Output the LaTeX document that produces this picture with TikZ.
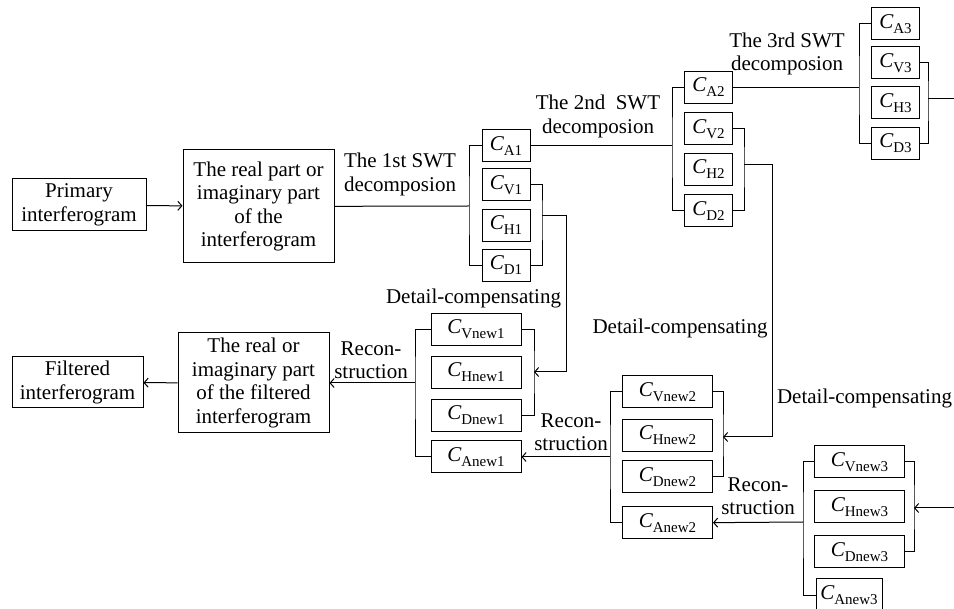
\documentclass[tikz,border=0pt]{standalone}
\usepackage{fontspec}
\setmainfont{Liberation Serif}
\usetikzlibrary{arrows.meta}
\newcommand{\coef}[1]{{\itshape C}\raisebox{-5pt}{\fontsize{15}{15}\selectfont #1}}

\begin{document}
\begin{tikzpicture}[x=1pt,y=-1pt,>={Straight Barb[length=4pt,width=9pt]},line width=1pt,
  box/.style={draw,align=center,inner sep=2pt},
  small node/.style={draw,minimum width=48pt,minimum height=32pt,inner sep=0pt},
  new node/.style={draw,minimum width=90pt,minimum height=32pt,inner sep=0pt},
  lbl/.style={align=center,inner sep=0pt}]
	\tikzset{every node/.append style={font=\fontsize{21}{23.5}\selectfont}}
	\useasboundingbox (0,0) rectangle (954,609);
	% input side
	\node[box,minimum width=134pt,minimum height=52pt] (prim) at (79,205) {Primary\\interferogram};
	\node[box,minimum width=151pt,minimum height=113pt] (real) at (258.5,206.5) {The real part or\\imaginary part\\of the\\interferogram};
	% output side
	\node[box,minimum width=131pt,minimum height=51pt] (filt) at (77.5,382.5) {Filtered\\interferogram};
	\node[box,minimum width=151pt,minimum height=100pt] (freal) at (253.5,383) {The real or\\imaginary part\\of the filtered\\interferogram};
	% 1st level
	\node[small node] (ca1) at (506,146) {\coef{A1}};
	\node[small node] (cv1) at (506,185) {\coef{V1}};
	\node[small node] (ch1) at (506,225.5) {\coef{H1}};
	\node[small node] (cd1) at (506,265.5) {\coef{D1}};
	% 2nd level
	\node[small node] (ca2) at (708.5,87.5) {\coef{A2}};
	\node[small node] (cv2) at (708.5,129) {\coef{V2}};
	\node[small node] (ch2) at (708.5,169.5) {\coef{H2}};
	\node[small node] (cd2) at (708.5,211) {\coef{D2}};
	% 3rd level
	\node[small node] (ca3) at (895.5,24) {\coef{A3}};
	\node[small node] (cv3) at (895.5,63) {\coef{V3}};
	\node[small node] (ch3) at (895.5,103) {\coef{H3}};
	\node[small node] (cd3) at (895.5,143.5) {\coef{D3}};
	% new coefficients
	\node[new node] (cvn1) at (476,329.5) {\coef{Vnew1}};
	\node[new node] (chn1) at (476,372.5) {\coef{Hnew1}};
	\node[new node] (cdn1) at (476,415.5) {\coef{Dnew1}};
	\node[new node] (can1) at (476,457) {\coef{Anew1}};
	\node[new node] (cvn2) at (667.5,392) {\coef{Vnew2}};
	\node[new node] (chn2) at (667.5,435.5) {\coef{Hnew2}};
	\node[new node] (cdn2) at (667.5,477) {\coef{Dnew2}};
	\node[new node] (can2) at (667.5,523) {\coef{Anew2}};
	\node[new node] (cvn3) at (859.5,462) {\coef{Vnew3}};
	\node[new node] (chn3) at (859.5,507) {\coef{Hnew3}};
	\node[new node] (cdn3) at (859.5,552) {\coef{Dnew3}};
	\node[new node,minimum width=66pt] (can3) at (849,595) {\coef{Anew3}};
	% labels
	\node[lbl] (dec1) at (400,174.5) {The 1st SWT\\decomposion};
	\node[lbl] (dec2) at (598,116.5) {The 2nd\ \ SWT\\decomposion};
	\node[lbl] (dec3) at (787,54) {The 3rd SWT\\decomposion};
	\node[lbl] (det1) at (473.5,298) {Detail-compensating};
	\node[lbl] (det2) at (680,328) {Detail-compensating};
	\node[lbl] (det3) at (864.5,398) {Detail-compensating};
	\node[lbl] (rec1) at (371,360) {Recon-\\struction};
	\node[lbl] (rec2) at (571,432) {Recon-\\struction};
	\node[lbl] (rec3) at (758,496) {Recon-\\struction};
	% bracket joints
	\coordinate (j1) at (469,206);
	\coordinate (j2) at (672,146);
	\coordinate (j3) at (859,87.5);
	\coordinate (k1) at (542,216);
	\coordinate (k2) at (744,165);
	\coordinate (k3) at (928,99);
	\coordinate (t1) at (566,216);
	\coordinate (t2) at (772,165);
	\coordinate (t3) at (960,99);
	\coordinate (t4) at (960,508);
	\coordinate (m1) at (534,372);
	\coordinate (m2) at (723,437);
	\coordinate (m3) at (914,508);
	\coordinate (l1) at (415,383);
	\coordinate (l2) at (610,457);
	\coordinate (l3) at (803,522);
	% decomposition
	\draw [->](prim) to (real);
	\draw (real) to (j1);
	\draw (ca1.west) -| (j1) |- (cd1.west);
	\draw (ca1) to (j2);
	\draw (ca2.west) -| (j2) |- (cd2.west);
	\draw (ca2) to (j3);
	\draw (ca3.west) -| (j3) |- (cd3.west);
	\draw (cv1.east) -| (k1) |- (cd1.east);
	\draw (cv2.east) -| (k2) |- (cd2.east);
	\draw (cv3.east) -| (k3) |- (cd3.east);
	\draw (k3) to (t3);
	% detail-compensating
	\draw [->](k1) -- (t1) |- (m1);
	\draw [->](k2) -- (t2) |- (m2);
	\draw [->](t4) to (m3);
	\draw (cvn1.east) -| (m1) |- (cdn1.east);
	\draw (cvn2.east) -| (m2) |- (cdn2.east);
	\draw (cvn3.east) -| (m3) |- (cdn3.east);
	% reconstruction
	\draw (cvn1.west) -| (l1) |- (can1.west);
	\draw (cvn2.west) -| (l2) |- (can2.west);
	\draw (cvn3.west) -| (l3) |- (can3.west);
	\draw [->](l3) to (can2);
	\draw [->](l2) to (can1);
	\draw [->](l1) to (freal);
	\draw [->](freal) to (filt);
\end{tikzpicture}
\end{document}
